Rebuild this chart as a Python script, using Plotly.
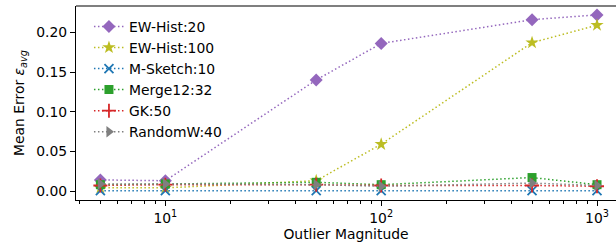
import plotly.graph_objects as go

magnitudes = [5, 10, 50, 100, 500, 1000]

series_names = ["EW-Hist:20", "EW-Hist:100", "M-Sketch:10", "Merge12:32", "GK:50", "RandomW:40"]
ew_hist_20 = [0.014, 0.013, 0.140, 0.186, 0.216, 0.222]
ew_hist_100 = [0.004, 0.004, 0.013, 0.059, 0.187, 0.209]
m_sketch_10 = [0.0005, 0.0005, 0.0005, 0.0005, 0.0005, 0.0005]
merge12_32 = [0.008, 0.009, 0.011, 0.008, 0.017, 0.008]
gk_50 = [0.007, 0.008, 0.008, 0.007, 0.007, 0.006]
randomw_40 = [0.009, 0.009, 0.008, 0.006, 0.010, 0.007]

yticks = [0.00, 0.05, 0.10, 0.15, 0.20]
ytick_labels = ["0.00", "0.05", "0.10", "0.15", "0.20"]
xticks = [10, 100, 1000]
xtick_labels = ["10<sup>1</sup>", "10<sup>2</sup>", "10<sup>3</sup>"]
xminor = [4, 5, 6, 7, 8, 9, 20, 30, 40, 50, 60, 70, 80, 90,
          200, 300, 400, 500, 600, 700, 800, 900]

values = [ew_hist_20, ew_hist_100, m_sketch_10, merge12_32, gk_50, randomw_40]
colors = ["#9467bd", "#bcbd22", "#1f77b4", "#2ca02c", "#d62728", "#7f7f7f"]
symbols = ["diamond", "star", "x-thin-open", "square", "cross-thin-open", "triangle-right"]
sizes = [10, 10, 9, 9, 10, 10]

fig = go.Figure()
for name, vals, c, s, sz in zip(series_names, values, colors, symbols, sizes):
    fig.add_trace(go.Scatter(
        x=magnitudes, y=vals, name=name, mode="lines+markers",
        line=dict(color=c, width=1.5, dash="1.5px,2.5px"),
        marker=dict(symbol=s, size=sz, color=c, line=dict(color=c, width=1.8 if "thin" in s else 0)),
    ))

font = "DejaVu Sans, sans-serif"
fs = 13.9
fig.update_layout(
    width=616, height=246,
    margin=dict(l=76, r=0, t=6, b=46, autoexpand=False),
    plot_bgcolor="white", paper_bgcolor="white",
    font=dict(family=font, size=fs, color="black"),
    showlegend=True,
    legend=dict(x=0.024, y=0.975, xanchor="left", yanchor="top",
                bgcolor="rgba(255,255,255,0)", font=dict(size=fs),
                tracegroupgap=0),
    xaxis=dict(type="log", range=[0.586, 3.088], showgrid=False, zeroline=False,
               showline=True, linecolor="black", linewidth=1.1,
               ticks="outside", ticklen=5, tickcolor="black", tickwidth=1.1,
               tickvals=xticks, ticktext=xtick_labels,
               minor=dict(tickvals=xminor, ticks="outside", ticklen=3, tickcolor="black",
                          tickwidth=0.8, showgrid=False),
               title=dict(text="Outlier Magnitude", standoff=2, font=dict(size=fs))),
    yaxis=dict(range=[-0.0113, 0.2332], showgrid=False, zeroline=False,
               showline=True, linecolor="black", linewidth=1.1,
               ticks="outside", ticklen=5, tickcolor="black", tickwidth=1.1,
               tickvals=yticks, ticktext=ytick_labels,
               title=dict(text="Mean Error <i>ε</i><sub><i>avg</i></sub>", standoff=8, font=dict(size=fs))),
    shapes=[dict(type="line", xref="paper", yref="paper", x0=0, x1=1, y0=1, y1=1,
                 line=dict(color="black", width=1.1))],
)

fig.write_html("out.html", config={"displayModeBar": False},
               post_script="document.body.style.margin='0';")
